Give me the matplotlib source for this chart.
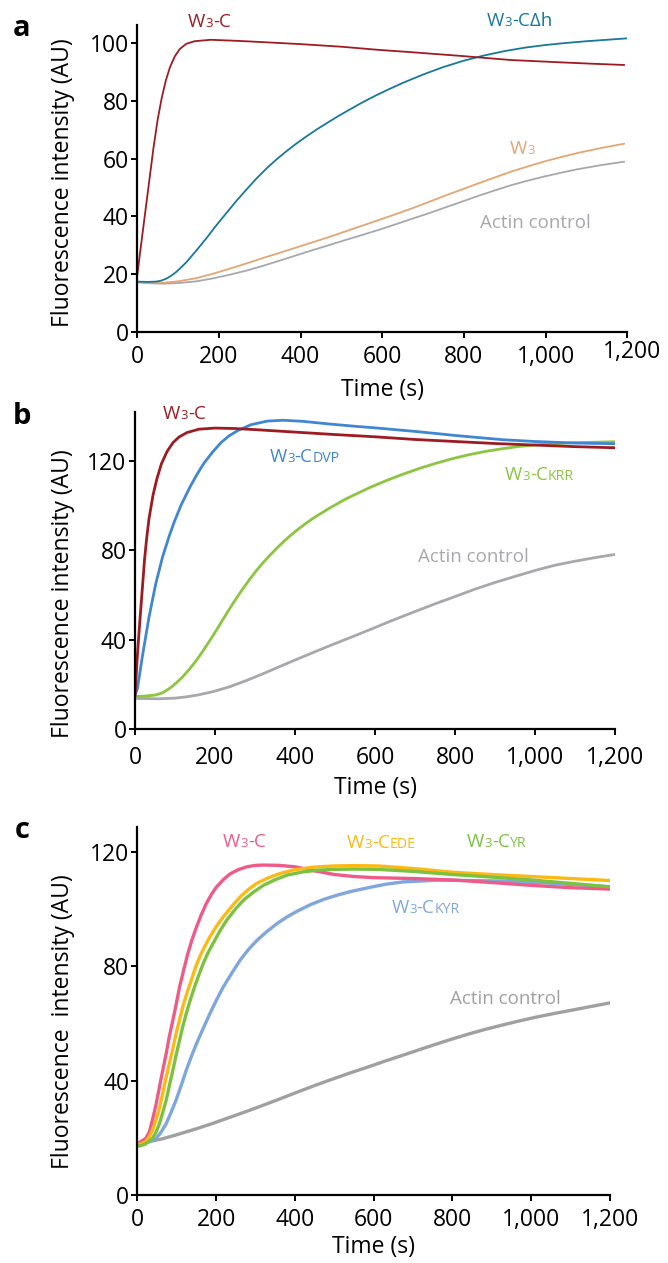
import matplotlib
matplotlib.use("Agg")
import matplotlib.pyplot as plt
import matplotlib.transforms as mtransforms
from matplotlib.offsetbox import TextArea, HPacker, AnnotationBbox

plt.rcParams['font.family'] = ['Open Sans', 'DejaVu Sans']

# ---- panel a ----
t_a_w3c = [0, 10, 20, 30, 40, 50, 60, 70, 80, 92, 104, 120, 140, 180, 250, 320, 400, 500, 592, 673, 795, 916, 1038, 1120, 1192]
a_w3c = [19.8, 31, 42, 53, 64, 73.5, 81, 87, 91.5, 95.3, 97.8, 99.6, 100.5, 101, 100.6, 100.1, 99.5, 98.6, 97.5, 96.7, 95.4, 94, 93.2, 92.7, 92.3]
t_a_dh = [0, 25, 47, 60, 72, 84, 96, 108, 121, 145, 170, 194, 219, 243, 268, 292, 316, 341, 366, 390,
          415, 439, 464, 488, 520, 553, 586, 619, 650, 700, 750, 800, 850, 900, 950, 1000, 1050, 1100, 1150, 1200]
a_dh = [17.5, 17.4, 17.5, 17.9, 18.6, 19.6, 20.9, 22.5, 24.3, 28.3, 32.6, 37, 41.3, 45.4, 49.4, 53.1, 56.5, 59.7, 62.6, 65.2,
        67.7, 70, 72.2, 74.3, 76.9, 79.5, 81.9, 84.1, 86.1, 89, 91.6, 93.8, 95.6, 97.1, 98.3, 99.2, 99.9, 100.5, 101, 101.5]
t_a = [0, 30, 64, 100, 145, 185, 227, 270, 309, 350, 390, 430, 472, 513, 553, 592, 633, 673, 714, 754, 795, 835, 876, 916, 957, 997, 1038, 1078, 1135, 1192]
a_w3 = [17.3, 17, 17.1, 17.6, 18.7, 20.2, 22, 23.9, 25.7, 27.5, 29.3, 31.1, 33, 35, 36.9, 38.8, 40.8, 42.8, 45, 47.2, 49.3, 51.4, 53.5, 55.5, 57.3, 59, 60.5, 61.9, 63.6, 65.1]
a_actin = [17.3, 16.9, 16.8, 17, 17.6, 18.6, 19.9, 21.4, 23, 24.8, 26.6, 28.4, 30.2, 32, 33.7, 35.4, 37.3, 39.2, 41.1, 43.1, 45.1, 47.1, 49, 50.8, 52.4, 53.8, 55.1, 56.3, 57.7, 58.9]

# ---- panel b ----
t_b_w3c = [0, 6, 12, 18, 24, 29, 35, 45, 55, 66, 80, 95, 110, 130, 160, 200, 250, 300, 400, 500, 600, 700, 800, 900, 1000, 1100, 1200]
b_w3c = [15, 33, 48, 62, 76, 85, 94, 104.5, 112, 118.5, 124, 128, 130.5, 132.5, 134, 134.5, 134.3, 133.8, 132.7, 131.6, 130.6, 129.4, 128.5, 127.6, 126.9, 126.2, 125.7]
t_b_dvp = [0, 6, 18, 35, 52, 69, 86, 98, 115, 137, 155, 173, 195, 215, 235, 258, 290, 330, 370, 420, 487, 550, 600, 650, 700, 751, 800, 850, 919, 1000, 1100, 1200]
b_dvp = [15, 18, 32, 50, 65, 77, 86.5, 92.5, 100, 108, 113.8, 119, 124, 128, 131, 133.5, 136, 137.6, 138, 137.5, 136.3, 135.3, 134.6, 133.8, 133, 132.1, 131.2, 130.4, 129.3, 128.5, 127.8, 127.5]
t_b_krr = [0, 25, 52, 70, 86, 102, 119, 136, 153, 170, 187, 204, 220, 237, 254, 270, 287, 304, 321, 338, 355, 372, 388, 405, 422, 438, 455,
           487, 529, 583, 625, 667, 710, 751, 793, 835, 877, 919, 961, 1003, 1087, 1200]
b_krr = [14.5, 14.7, 15.2, 16.3, 18.1, 20.4, 23.3, 26.7, 30.6, 34.9, 39.5, 44.3, 49, 53.9, 58.6, 62.8, 67, 70.9, 74.5, 77.8, 80.9, 83.8, 86.4, 88.9, 91.2, 93.3, 95.3,
         98.8, 103, 107.6, 110.8, 113.7, 116.4, 118.7, 120.8, 122.6, 124.1, 125.3, 126.3, 127, 127.9, 128.4]
t_b_actin = [0, 60, 100, 130, 160, 195, 237, 279, 320, 363, 405, 447, 489, 540, 590, 640, 700, 751, 800, 850, 900, 950, 1003, 1050, 1100, 1150, 1200]
b_actin = [13.7, 13.5, 13.8, 14.4, 15.3, 16.7, 18.9, 21.7, 24.7, 28, 31.2, 34.3, 37.4, 41, 44.6, 48.3, 52.5, 56, 59.2, 62.5, 65.5, 68.2, 71, 73.2, 75, 76.6, 78]

# ---- panel c ----
t_c_w3c = [0, 21, 30, 38, 47, 56, 64, 73, 81, 90, 98, 107, 117, 128, 139, 150, 162, 175, 188, 201, 218, 235, 256, 278, 300, 321, 360, 400,
           450, 500, 550, 600, 700, 800, 900, 1000, 1100, 1200]
c_w3c = [18, 19.8, 22, 26.2, 31.5, 37.9, 43.5, 49.5, 55.5, 61.2, 66.5, 72.8, 78.5, 84.5, 89.5, 93.8, 98, 102, 105.2, 107.8, 110.3, 112.3, 113.8, 114.8, 115.3, 115.4, 115.3, 114.8,
         113.4, 112.1, 111.4, 111, 110.7, 110.2, 109.3, 108.3, 107.5, 107]
t_c_ede = [0, 20, 30, 39, 47, 56, 64, 72, 81, 90, 98, 107, 115, 126, 137, 147, 158, 171, 184, 200, 218, 240, 261, 282, 303, 333, 363, 400, 449,
           500, 550, 611, 700, 800, 900, 1000, 1100, 1200]
c_ede = [17.5, 18.5, 20.4, 23, 26.2, 30.5, 35.5, 40.7, 46, 51.3, 56.5, 61.3, 65.9, 70.8, 75.2, 79.5, 83.3, 87, 90.3, 93.9, 97.3, 101, 104.3, 106.9, 109, 111, 112.5, 113.8, 114.7,
         115.1, 115.2, 115.1, 114.2, 112.9, 112.1, 111.4, 110.7, 110]
t_c_yr = [0, 20, 38, 47, 56, 64, 73, 81, 90, 98, 107, 115, 124, 134, 145, 156, 167, 179, 192, 209, 227, 248, 269, 295, 321, 350, 380, 420, 457,
          500, 550, 611, 700, 800, 900, 1000, 1100, 1200]
c_yr = [17, 17.8, 19.8, 22, 25, 28.8, 33.2, 38.3, 43.7, 48.9, 54.2, 58.9, 63.5, 68.2, 72.8, 77, 81, 84.7, 88, 92.3, 96.2, 99.9, 103.1, 106, 108.4, 110.3, 111.9, 113, 113.6,
        113.9, 114, 113.9, 113.2, 112.1, 111.2, 110.2, 109, 107.8]
t_c_kyr = [0, 30, 47, 60, 73, 85, 98, 111, 124, 137, 150, 167, 184, 201, 218, 240, 261, 282, 303, 329, 355, 380, 406, 440, 475, 510, 543, 590,
           630, 674, 759, 850, 928, 1055, 1200]
c_kyr = [18, 18.6, 19.8, 22, 25, 28.8, 33.2, 38.3, 43.7, 48.5, 53, 58.3, 63.5, 68.3, 72.8, 77.7, 82.2, 85.9, 89, 92.2, 95, 97.3, 99.3, 101.6, 103.5, 105, 106.2, 107.6,
         108.7, 109.5, 110.1, 110, 109.8, 109, 107.8]
t_c_actin = [0, 30, 64, 100, 150, 190, 235, 280, 321, 365, 406, 450, 492, 540, 590, 630, 674, 715, 759, 800, 843, 885, 928, 970, 1012, 1055, 1097, 1150, 1200]
c_actin = [18, 18.7, 19.7, 21.1, 23.2, 25, 27.2, 29.4, 31.5, 33.8, 36, 38.3, 40.4, 42.7, 45, 46.9, 48.9, 50.8, 52.8, 54.6, 56.4, 58, 59.5, 60.9, 62.2, 63.4, 64.5, 65.9, 67.2]

x_ticks = [0, 200, 400, 600, 800, 1000, 1200]
x_labels = ['0', '200', '400', '600', '800', '1,000', '1,200']

DARKRED = '#9e1b22'
GRAY = '#a6a8ab'


def lab(ax, x, y, parts, color, size=13.5):
    # parts: list of (text, scale) pieces aligned on baseline
    boxes = [TextArea(s, textprops=dict(color=color, fontsize=size * k)) for s, k in parts]
    pack = HPacker(children=boxes, align="baseline", pad=0, sep=0)
    ab = AnnotationBbox(pack, (x, y), xycoords='data', frameon=False,
                        box_alignment=(0, 0.5), pad=0, annotation_clip=False)
    ax.add_artist(ab)


def style(ax, ymax, yticks, ylab, ylab_x, ylab_y, xlab_y, xpad):
    ax.set_xlim(0, 1200)
    ax.set_ylim(0, ymax)
    ax.set_xticks(x_ticks)
    ax.set_xticklabels(x_labels)
    ax.set_yticks(yticks)
    for s in ['top', 'right']:
        ax.spines[s].set_visible(False)
    for s in ['left', 'bottom']:
        ax.spines[s].set_linewidth(1.6)
    ax.tick_params(direction='out', length=4, width=1.4, labelsize=16.5)
    ax.tick_params(axis='x', pad=xpad)
    ax.tick_params(axis='y', pad=2)
    ax.set_ylabel(ylab, fontsize=16.5, va='center')
    ax.yaxis.set_label_coords(ylab_x, ylab_y)
    ax.set_xlabel('Time (s)', fontsize=16.5, va='center')
    ax.xaxis.set_label_coords(0.5, xlab_y)


fig = plt.figure(figsize=(6.68, 12.63), dpi=100)

# panel a
ax1 = fig.add_axes([0.2055, 0.7369, 0.7335, 0.2433])
ax1.plot(t_a, a_actin, color=GRAY, lw=1.3)
ax1.plot(t_a, a_w3, color='#e4a574', lw=1.3)
ax1.plot(t_a_dh, a_dh, color='#17789a', lw=1.3)
ax1.plot(t_a_w3c, a_w3c, color=DARKRED, lw=1.3)
style(ax1, 106.1, [0, 20, 40, 60, 80, 100], 'Fluorescence intensity (AU)', -0.152, 0.487, -0.188, 5)
# last tick label sits a little higher and to the right in the original
last = ax1.get_xticklabels()[-1]
last.set_transform(last.get_transform() + mtransforms.ScaledTranslation(5 / 100, 5 / 100, fig.dpi_scale_trans))
lab(ax1, 124, 107.2, [('W', 1), ('3', 0.7), ('-C', 1)], DARKRED)
lab(ax1, 857, 107.5, [('W', 1), ('3', 0.7), ('-C\u0394h', 1)], '#17789a')
lab(ax1, 913, 63.3, [('W', 1), ('3', 0.7)], '#e4a574')
lab(ax1, 839, 37.7, [('Actin control', 1)], GRAY)

# panel b
ax2 = fig.add_axes([0.2021, 0.4228, 0.7186, 0.2512])
ax2.plot(t_b_actin, b_actin, color=GRAY, lw=2.0)
ax2.plot(t_b_krr, b_krr, color='#8cc540', lw=2.0)
ax2.plot(t_b_dvp, b_dvp, color='#3f86d3', lw=2.0)
ax2.plot(t_b_w3c, b_w3c, color=DARKRED, lw=2.0)
style(ax2, 141.8, [0, 40, 80, 120], 'Fluorescence intensity (AU)', -0.15, 0.427, -0.186, 8)
lab(ax2, 70, 140.8, [('W', 1), ('3', 0.7), ('-C', 1)], DARKRED)
lab(ax2, 337, 121.6, [('W', 1), ('3', 0.7), ('-C', 1), ('DVP', 0.75)], '#3f86d3')
lab(ax2, 925, 113.5, [('W', 1), ('3', 0.7), ('-C', 1), ('KRR', 0.75)], '#8cc540')
lab(ax2, 707, 76.9, [('Actin control', 1)], GRAY)

# panel c
ax3 = fig.add_axes([0.2058, 0.0538, 0.7073, 0.2916])
ax3.plot(t_c_actin, c_actin, color='#a0a0a2', lw=2.4)
ax3.plot(t_c_kyr, c_kyr, color='#7fa7dd', lw=2.4)
ax3.plot(t_c_w3c, c_w3c, color='#ef5b88', lw=2.4)
ax3.plot(t_c_ede, c_ede, color='#fdb913', lw=2.4)
ax3.plot(t_c_yr, c_yr, color='#7cc142', lw=2.4)
style(ax3, 128.8, [0, 40, 80, 120], 'Fluorescence  intensity (AU)', -0.158, 0.472, -0.141, 5)
lab(ax3, 217, 123.4, [('W', 1), ('3', 0.7), ('-C', 1)], '#ef5b88')
lab(ax3, 532, 123.0, [('W', 1), ('3', 0.7), ('-C', 1), ('EDE', 0.75)], '#fdb913')
lab(ax3, 837, 123.4, [('W', 1), ('3', 0.7), ('-C', 1), ('YR', 0.75)], '#7cc142')
lab(ax3, 646, 100.3, [('W', 1), ('3', 0.7), ('-C', 1), ('KYR', 0.75)], '#7fa7dd')
lab(ax3, 794, 68.5, [('Actin control', 1)], '#a0a0a2')

for letter, y in [('a', 28), ('b', 416), ('c', 831)]:
    fig.text(22 / 668, 1 - y / 1263, letter, fontsize=21, fontweight='bold',
             ha='center', va='center')

fig.savefig('out.png', dpi=100)
